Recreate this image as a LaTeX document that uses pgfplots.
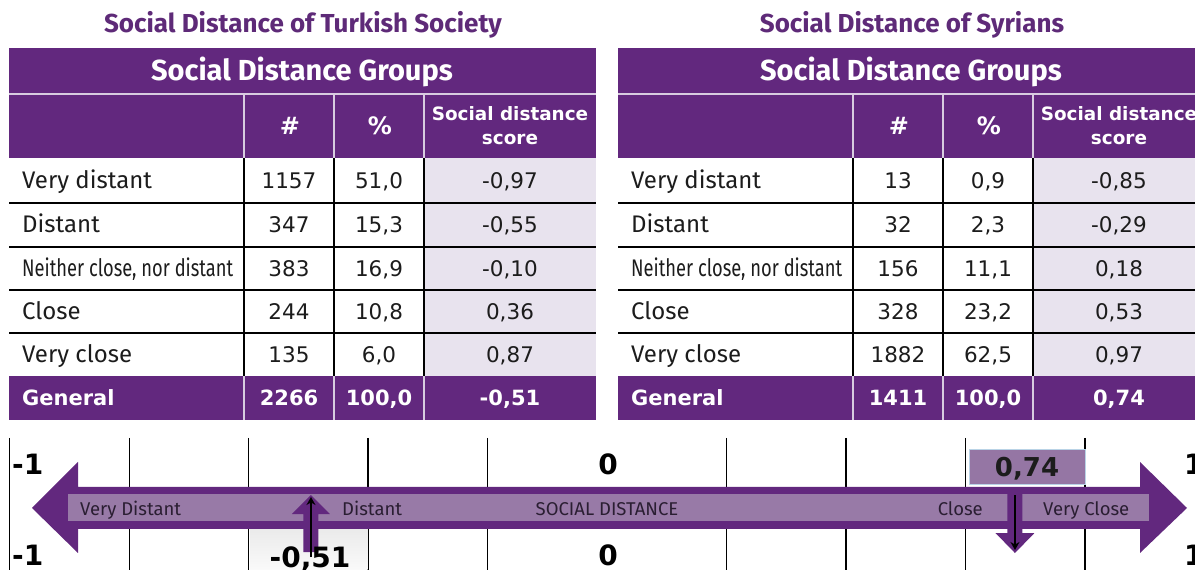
\documentclass[border=0pt]{standalone}
\usepackage{fontspec}
\setmainfont{Fira Sans}
\newfontfamily\dvs{DejaVu Sans}
\usepackage{pgfplots}
\pgfplotsset{compat=1.18}
\usepackage{pgfplotstable}
\usetikzlibrary{arrows.meta}

\definecolor{pur}{HTML}{62287E}
\definecolor{titlec}{HTML}{5E2A78}
\definecolor{scorebg}{HTML}{E8E3EE}
\definecolor{band}{HTML}{987AA7}
\definecolor{boxfill}{HTML}{9576A4}
\definecolor{boxline}{HTML}{B9D3E6}
\definecolor{sep}{HTML}{D8CCE0}
\definecolor{txt}{HTML}{1C1C1C}
\definecolor{bandtxt}{HTML}{2A1E32}

\newcommand\fs[1]{\fontsize{#1}{#1}\selectfont}

\newcommand{\sdrow}[5]{%
  \node[anchor=base west,font=\fs{24},text=txt,inner sep=0pt] at (22,#1+8) {#2};
  \node[anchor=base,font=\dvs\fs{21.5},text=txt,inner sep=0pt] at (289,#1+8) {#3};
  \node[anchor=base,font=\dvs\fs{21.5},text=txt,inner sep=0pt] at (379,#1+8) {#4};
  \node[anchor=base,font=\dvs\fs{21.5},text=txt,inner sep=0pt] at (510,#1+8) {#5};}

\newcommand{\sdgen}[4]{%
  \node[anchor=base west,font=\dvs\fs{21}\bfseries,text=white,inner sep=0pt] at (22,406) {#1};
  \node[anchor=base,font=\dvs\fs{21}\bfseries,text=white,inner sep=0pt] at (289,406) {#2};
  \node[anchor=base,font=\dvs\fs{21}\bfseries,text=white,inner sep=0pt] at (379,406) {#3};
  \node[anchor=base,font=\dvs\fs{21}\bfseries,text=white,inner sep=0pt] at (510,406) {#4};}

\newcommand{\sdframe}[1]{%
  \fill[pur] (9,48) rectangle (596,158);
  \fill[scorebg] (424,158) rectangle (596,376);
  \fill[pur] (9,376) rectangle (596,420);
  \draw[sep,line width=1.5pt] (9,94) -- (596,94);
  \foreach \c in {244,334,424} {
    \draw[sep,line width=1.5pt] (\c,94) -- (\c,158);
    \draw[sep,line width=1.5pt] (\c,376) -- (\c,420);
    \draw[black,line width=1.5pt] (\c,158) -- (\c,376);}
  \foreach \r in {203,247,290,333} {\draw[black,line width=1.5pt] (9,\r) -- (596,\r);}
  \node[anchor=base,font=\fs{26}\bfseries,text=titlec,inner sep=0pt] at (303,33) {#1};
  \node[anchor=base,font=\fs{29}\bfseries,text=white,inner sep=0pt] at (302,81) {Social Distance Groups};
  \node[anchor=base,font=\dvs\fs{24}\bfseries,text=white,inner sep=0pt] at (290,135) {\#};
  \node[anchor=base,font=\dvs\fs{24}\bfseries,text=white,inner sep=0pt] at (380,135) {\%};
  \node[anchor=base,font=\dvs\fs{18.4}\bfseries,text=white,inner sep=0pt] at (510,121) {Social distance};
  \node[anchor=base,font=\dvs\fs{18.4}\bfseries,text=white,inner sep=0pt] at (510,145) {score};
}

\begin{document}
\begin{tikzpicture}
% scale grid (score units)
\begin{axis}[at={(0,0)},anchor=south west,scale only axis,width=1195pt,height=132pt,
  xmin=-1.0161,xmax=0.9841,ymin=438,ymax=570,y dir=reverse,
  axis line style={draw=none},tick style={draw=none},
  xtick={-1,-0.8,-0.6,-0.4,-0.2,0.2,0.4,0.6,0.8},xticklabels={},ytick=\empty,
  xmajorgrids,grid style={black,line width=1.2pt}]
\addplot[draw=none] coordinates {(0,500)};
\end{axis}

\begin{scope}[x=1pt,y=-1pt,yshift=570pt]
  % tables
  \sdframe{Social Distance of Turkish Society}
  \sdrow{181}{Very distant}{1157}{51,0}{-0,97}
  \sdrow{225}{Distant}{347}{15,3}{-0,55}
  \sdrow{268.5}{\resizebox{211pt}{\height}{Neither close, nor distant}}{383}{16,9}{-0,10}
  \sdrow{311.5}{Close}{244}{10,8}{0,36}
  \sdrow{354.5}{Very close}{135}{6,0}{0,87}
  \sdgen{General}{2266}{100,0}{-0,51}
  \begin{scope}[xshift=609pt]
  \sdframe{Social Distance of Syrians}
  \sdrow{181}{Very distant}{13}{0,9}{-0,85}
  \sdrow{225}{Distant}{32}{2,3}{-0,29}
  \sdrow{268.5}{\resizebox{211pt}{\height}{Neither close, nor distant}}{156}{11,1}{0,18}
  \sdrow{311.5}{Close}{328}{23,2}{0,53}
  \sdrow{354.5}{Very close}{1882}{62,5}{0,97}
  \sdgen{General}{1411}{100,0}{0,74}
  \end{scope}
  % -0,51 cell
  \shade[top color=gray!18,bottom color=gray!4] (250,523) rectangle (367.5,570);
  % big double arrow
  \fill[pur] (32,508) -- (78,462) -- (78,487) -- (1140,487) -- (1140,462) -- (1187,508)
     -- (1140,553) -- (1140,529) -- (78,529) -- (78,553) -- cycle;
  \fill[band] (68,494) rectangle (1149,521);
  % scale labels
  \foreach \yy in {475,566} {
    \node[anchor=base west,font=\dvs\fs{28}\bfseries,text=black,inner sep=0pt] at (12,\yy) {-1};
    \node[anchor=base,font=\dvs\fs{28}\bfseries,text=black,inner sep=0pt] at (608,\yy) {0};
    \node[anchor=base west,font=\dvs\fs{28}\bfseries,text=black,inner sep=0pt] at (1184,\yy) {1};}
  \node[anchor=base west,font=\fs{18.5},text=bandtxt,inner sep=0pt] at (80,516) {Very Distant};
  \node[anchor=base west,font=\fs{18.5},text=bandtxt,inner sep=0pt] at (342,516) {Distant};
  \node[anchor=base,font=\fs{18.5},text=bandtxt,inner sep=0pt] at (607,516) {SOCIAL DISTANCE};
  \node[anchor=base east,font=\fs{18.5},text=bandtxt,inner sep=0pt] at (983,516) {Close};
  \node[anchor=base west,font=\fs{18.5},text=bandtxt,inner sep=0pt] at (1043,516) {Very Close};
  % 0,74 box
  \filldraw[fill=boxfill,draw=boxline,line width=1pt] (969,450) rectangle (1085,485);
  \node[anchor=base,font=\dvs\fs{26}\bfseries,text=txt,inner sep=0pt] at (1027,477) {0,74};
\end{scope}

% score markers
\begin{axis}[at={(0,0)},anchor=south west,scale only axis,width=1195pt,height=570pt,
  xmin=0,xmax=1195,ymin=0,ymax=570,y dir=reverse,hide axis,clip=false]
\addplot[fill=pur,draw=none] table[x expr=598.2+563.2*\thisrow{s}+\thisrow{dx},y=y] {
s dx y
-0.51 0 495
-0.51 19 514
-0.51 7.5 514
-0.51 7.5 552
-0.51 -7.5 552
-0.51 -7.5 514
-0.51 -19 514
} -- cycle;
\addplot[fill=pur,draw=none] table[x expr=598.2+563.2*\thisrow{s}+\thisrow{dx},y=y] {
s dx y
0.74 -7.5 487
0.74 7.5 487
0.74 7.5 533
0.74 19.5 533
0.74 0 553
0.74 -19.5 533
0.74 -7.5 533
} -- cycle;
\addplot[black,line width=2.6pt,-{Stealth[length=8pt,width=9pt]}] table[x expr=598.2+563.2*\thisrow{s}+\thisrow{dx},y=y] {
s dx y
-0.51 0 557
-0.51 0 497
};
\addplot[black,line width=2.6pt,-{Stealth[length=8pt,width=9pt]}] table[x expr=598.2+563.2*\thisrow{s}+\thisrow{dx},y=y] {
s dx y
0.74 0 495
0.74 0 550
};
\end{axis}

\begin{scope}[x=1pt,y=-1pt,yshift=570pt]
  \node[anchor=base,font=\dvs\fs{28}\bfseries,text=black,inner sep=0pt] at (310,568) {-0,51};
\end{scope}

\pgfresetboundingbox
\path[use as bounding box] (0,0) rectangle (1195pt,570pt);
\end{tikzpicture}
\end{document}
